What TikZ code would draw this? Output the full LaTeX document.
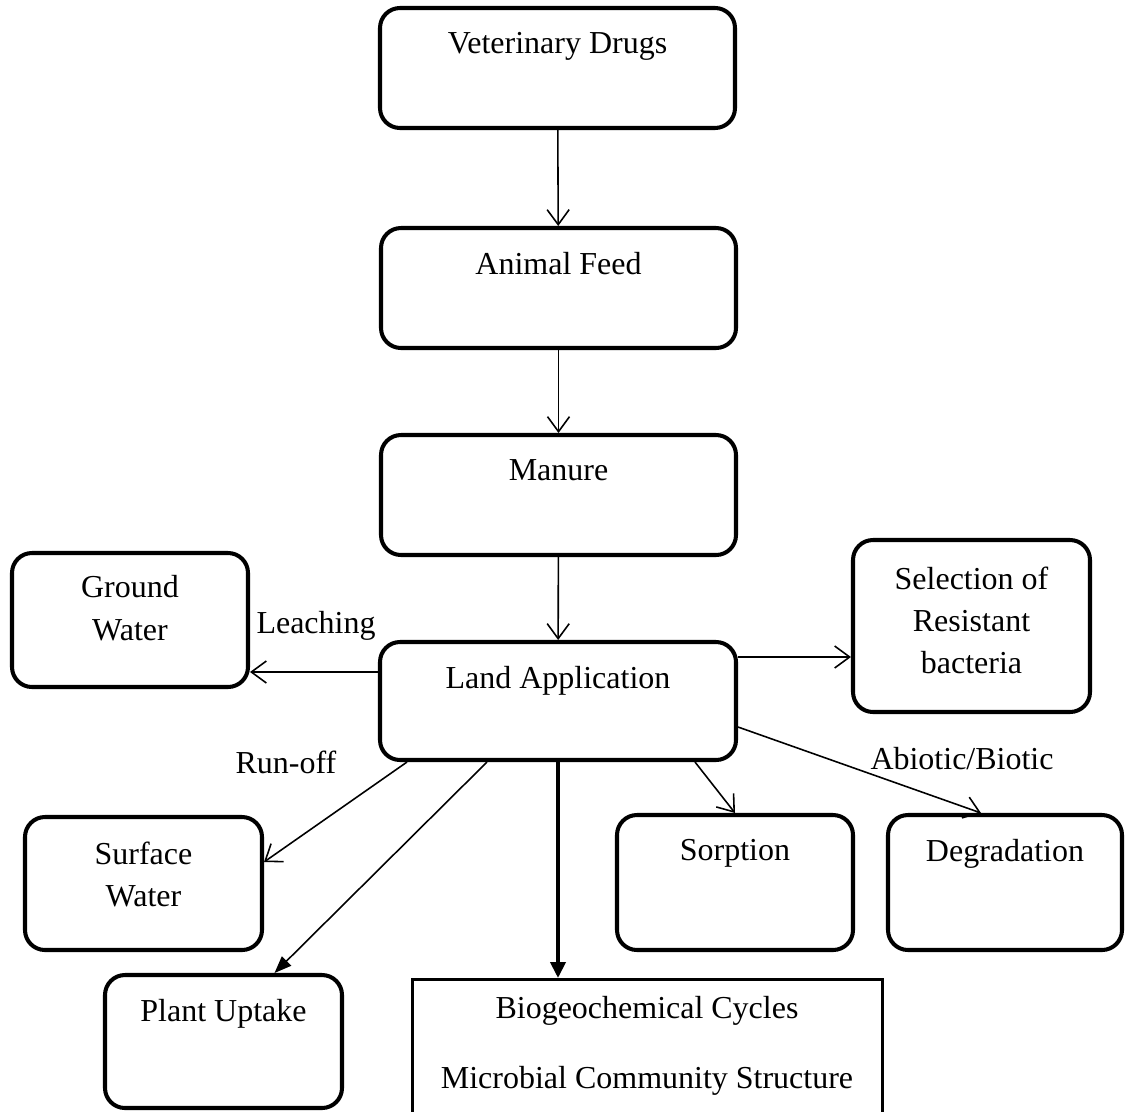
\documentclass[tikz,border=0pt]{standalone}
\usepackage{fontspec}
\setmainfont{Liberation Serif}
\usetikzlibrary{arrows.meta, positioning}

\tikzset{
  box/.style={draw, line width=1.15pt, rounded corners=2mm, inner sep=0pt},
  sqbox/.style={draw, line width=0.85pt, inner sep=0pt},
  txt/.style={font=\fontsize{9.1}{12}\selectfont, align=center, inner sep=0pt, anchor=north},
  lbl/.style={font=\fontsize{9.1}{12}\selectfont, inner sep=0pt, anchor=base},
  arr/.style={line width=0.45pt, -{Straight Barb[length=1.5mm, width=2.2mm]}},
  farr/.style={line width=0.45pt, -{Triangle[length=1.7mm, width=1.3mm]}},
  heavyarr/.style={line width=1.1pt, -{Triangle[length=1.6mm, width=1.5mm]}}
}

\begin{document}
\begin{tikzpicture}
\clip (0,0) rectangle (11.26,-11.11);
% boxes
\node[box, minimum width=3.55cm, minimum height=1.2cm] (vet) at (5.575,-0.68) {};
\node[box, minimum width=3.55cm, minimum height=1.2cm] (feed) at (5.585,-2.88) {};
\node[box, minimum width=3.55cm, minimum height=1.2cm] (manure) at (5.585,-4.95) {};
\node[box, minimum width=3.56cm, minimum height=1.18cm] (land) at (5.58,-7.01) {};
\node[box, minimum width=2.36cm, minimum height=1.34cm] (ground) at (1.30,-6.20) {};
\node[box, minimum width=2.37cm, minimum height=1.72cm] (select) at (9.715,-6.26) {};
\node[box, minimum width=2.37cm, minimum height=1.33cm] (surface) at (1.435,-8.835) {};
\node[box, minimum width=2.36cm, minimum height=1.35cm] (sorption) at (7.35,-8.825) {};
\node[box, minimum width=2.34cm, minimum height=1.35cm] (degrad) at (10.05,-8.825) {};
\node[box, minimum width=2.37cm, minimum height=1.33cm] (plant) at (2.235,-10.415) {};
\node[sqbox, minimum width=4.70cm, minimum height=1.6cm, anchor=north] (bio) at (6.47,-9.78) {};

% box texts
\node[txt] (vet-t) at ([yshift=-2.6mm]vet.north) {Veterinary Drugs};
\node[txt] (feed-t) at ([yshift=-2.6mm]feed.north) {Animal Feed};
\node[txt] (manure-t) at ([yshift=-2.6mm]manure.north) {Manure};
\node[txt] (land-t) at ([yshift=-2.6mm]land.north) {Land Application};
\node[txt] (ground-t) at ([yshift=-2.4mm]ground.north) {Ground\\Water};
\node[txt] (select-t) at ([yshift=-2.8mm]select.north) {Selection of\\Resistant\\bacteria};
\node[txt] (surface-t) at ([yshift=-2.6mm]surface.north) {Surface\\Water};
\node[txt] (sorption-t) at ([yshift=-2.6mm]sorption.north) {Sorption};
\node[txt] (degrad-t) at ([yshift=-2.6mm]degrad.north) {Degradation};
\node[txt] (plant-t) at ([yshift=-2.6mm]plant.north) {Plant Uptake};
\node[txt] (bio-t) at ([yshift=-1.8mm]bio.north) {Biogeochemical Cycles\\[7.7pt]Microbial Community Structure};

% arrow labels
\node[lbl] (leach) at (3.16,-6.33) {Leaching};
\node[lbl] (runoff) at (2.86,-7.73) {Run-off};
\node[lbl] (abiotic) at (9.62,-7.69) {Abiotic/Biotic};

% connectors
\draw[arr] (vet) -- (feed);
\draw[arr] (feed) -- (manure);
\draw[arr] (manure) -- (land);
\draw[arr] ([yshift=2.9mm]land.west) -- ([yshift=2.9mm]land.west -| ground.east);
\draw[arr] ([yshift=4.4mm]land.east) -- ([yshift=4.4mm]land.east -| select.west);
\draw[arr] ([xshift=-15.1mm]land.south) -- ([yshift=2.15mm]surface.east);
\draw[farr] ([xshift=-7.1mm]land.south) -- ([xshift=5.1mm]plant.north);
\draw[heavyarr] (land.south) -- (land.south |- bio.north);
\draw[arr] ([xshift=13.7mm]land.south) -- (sorption.north);
\draw[arr] ([yshift=-2.6mm]land.east) -- ([xshift=-2.4mm]degrad.north);
\end{tikzpicture}
\end{document}
